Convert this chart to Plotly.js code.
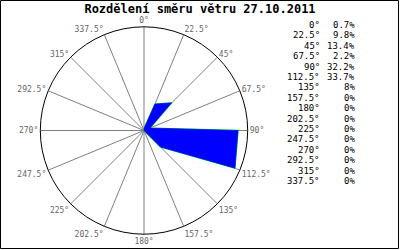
<!DOCTYPE html>
<html><head><meta charset="utf-8">
<script src="https://cdn.plot.ly/plotly-3.0.1.min.js"></script>
<style>html,body{margin:0;padding:0;background:#fff}#c{width:400px;height:250px}</style>
</head><body><div id="c"></div>
<script>
var directions = [0, 22.5, 45, 67.5, 90, 112.5, 135, 157.5, 180, 202.5, 225, 247.5, 270, 292.5, 315, 337.5];
var tickLabels = ["0°","22.5°","45°","67.5°","90°","112.5°","135°","157.5°","180°","202.5°","225°","247.5°","270°","292.5°","315°","337.5°"];
var percents = [0.7, 9.8, 13.4, 2.2, 32.2, 33.7, 8, 0, 0, 0, 0, 0, 0, 0, 0, 0];
var titleText = "Rozdělení směru větru 27.10.2011";

var th = directions.concat([directions[0]]);
var rr = percents.concat([percents[0]]);

var traces = [
  {type:'scatterpolar', r: rr, theta: th, mode:'lines', line:{color:'#00ff00', width:1.3}, hoverinfo:'skip', showlegend:false},
  {type:'scatterpolar', r: rr, theta: th, mode:'lines', fill:'toself', fillcolor:'#0000ff', line:{color:'#0000ff', width:0.6}, hoverinfo:'skip', showlegend:false}
];

var W = 400, H = 250;
var cx = 144, cy = 130.5, R = 103.7;
var mono = "DejaVu Sans Mono, monospace";
var annotations = [];
for (var i = 0; i < directions.length; i++) {
  var py = 25 + i * 10.4;
  annotations.push({xref:'paper', yref:'paper', x: 322/W, y: 1 - py/H, xanchor:'right', yanchor:'middle',
    text: tickLabels[i], showarrow:false, font:{family:mono, size:9, color:'#000'}});
  annotations.push({xref:'paper', yref:'paper', x: 357/W, y: 1 - py/H, xanchor:'right', yanchor:'middle',
    text: percents[i] + '%', showarrow:false, font:{family:mono, size:9, color:'#000'}});
}

var layout = {
  width: W, height: H,
  margin: {l:0, r:0, t:0, b:0},
  paper_bgcolor:'#fff',
  showlegend:false,
  title: {text: '<b>' + titleText + '</b>', x:0.5, xanchor:'center', y: 1 - 9/H, yanchor:'middle', yref:'container',
          font:{family:mono, size:12, color:'#000'}},
  polar: {
    domain: {x:[(cx-R)/W, (cx+R)/W], y:[(H-cy-R)/H, (H-cy+R)/H]},
    bgcolor:'#fff',
    radialaxis: {visible:false, range:[0, 35.5], showgrid:false},
    angularaxis: {rotation:90, direction:'clockwise', tickmode:'array', tickvals: directions, ticktext: tickLabels,
      showgrid:true, gridcolor:'#808080', gridwidth:1, showline:true, linecolor:'#000', linewidth:1, ticks:'',
      tickfont:{family:mono, size:8, color:'#666'}}
  },
  annotations: annotations,
  shapes: [{type:'rect', xref:'paper', yref:'paper', x0:0.5/W, x1:398.5/W, y0:1-248.5/H, y1:1-0.5/H, line:{color:'#000', width:1}}]
};

Plotly.newPlot('c', traces, layout, {displayModeBar:false, staticPlot:true});
</script></body></html>
